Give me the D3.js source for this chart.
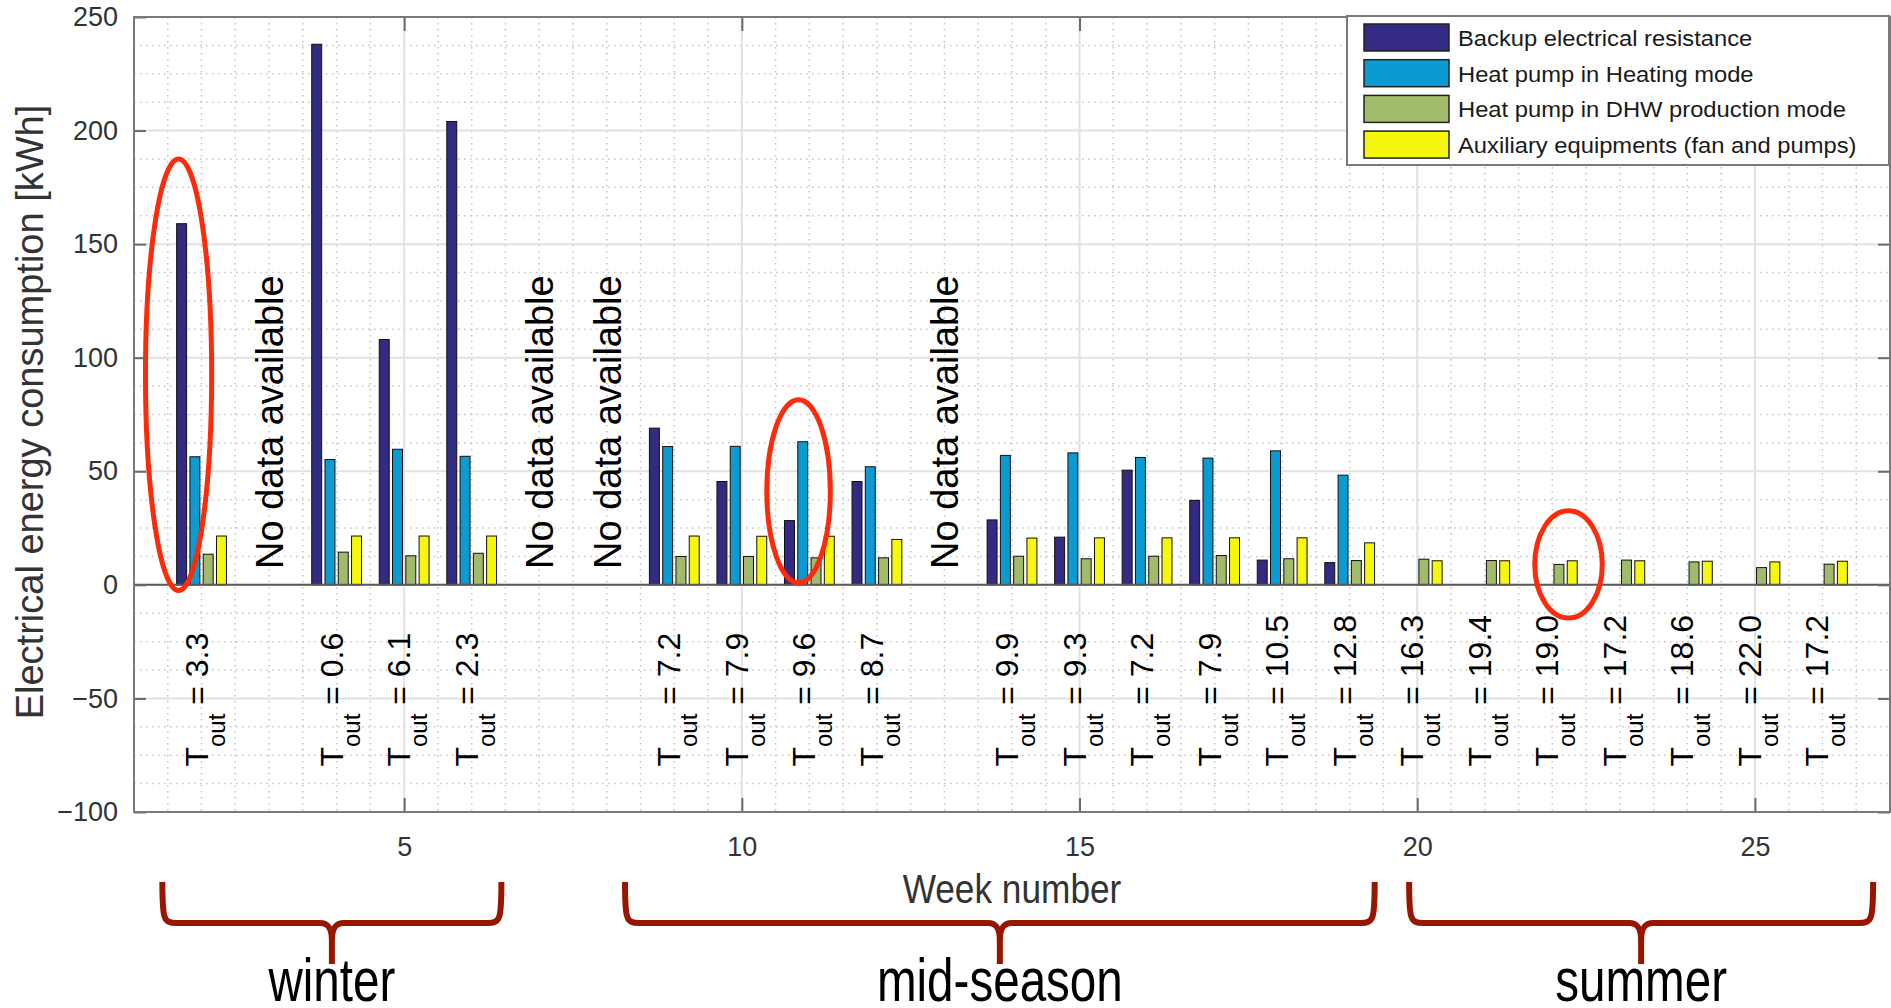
<!DOCTYPE html>
<html>
<head>
<meta charset="utf-8">
<script src="https://cdn.jsdelivr.net/npm/d3@7"></script>
<style>
  body { margin: 0; background: #fff; }
  svg { display: block; font-family: "Liberation Sans", Arial, Helvetica, sans-serif; }
</style>
</head>
<body>
<svg width="1891" height="1008"></svg>
<script>
//weeks that have measurements
var weeks = [2, 4, 5, 6, 9, 10, 11, 12, 14, 15, 16, 17, 18, 19, 20, 21, 22, 23, 24, 25, 26];
var backup = [159, 238, 108, 204, 69, 45.5, 28.3, 45.5, 28.6, 21, 50.5, 37.2, 10.9, 9.8, 0, 0, 0, 0, 0, 0, 0];
var heating = [56.4, 55.2, 59.7, 56.6, 60.9, 61, 63, 52, 57, 58.1, 56.1, 55.8, 59, 48.3, 0, 0, 0, 0, 0, 0, 0];
var dhw = [13.5, 14.4, 12.8, 13.9, 12.5, 12.5, 11.9, 11.9, 12.6, 11.5, 12.6, 12.9, 11.5, 10.7, 11.3, 10.7, 9.0, 10.9, 10.1, 7.6, 9.1];
var aux = [21.5, 21.5, 21.5, 21.5, 21.5, 21.4, 21.4, 20, 20.6, 20.7, 20.7, 20.7, 20.7, 18.5, 10.6, 10.6, 10.6, 10.6, 10.4, 10.1, 10.4];
//mean outdoor temperature of each week
var tOut = ["3.3", "0.6", "6.1", "2.3", "7.2", "7.9", "9.6", "8.7", "9.9", "9.3", "7.2", "7.9", "10.5", "12.8", "16.3", "19.4", "19.0", "17.2", "18.6", "22.0", "17.2"];
var noDataWeeks = [3, 7, 8, 13];

var seriesNames = ["Backup electrical resistance", "Heat pump in Heating mode",
    "Heat pump in DHW production mode", "Auxiliary equipments (fan and pumps)"];
var seriesColors = ["#332a82", "#0b9bd1", "#a1bb6a", "#f7f70c"];

//ticks
var xTicks = [5, 10, 15, 20, 25];
var yTicks = [-100, -50, 0, 50, 100, 150, 200, 250];

//seasons (week ranges under the axis)
var seasons = ["winter", "mid-season", "summer"];
var seasonStart = [1.42, 8.27, 19.88];
var seasonEnd = [6.44, 19.37, 26.75];

//red ellipses (week, value, half width in weeks, half height in kWh)
var markWeek = [1.66, 10.84, 22.24];
var markValue = [92.5, 41.2, 9.0];
var markRx = [0.49, 0.47, 0.5];
var markRy = [95, 40.3, 23.6];

var svg = d3.select("svg");
var plotLeft = 134, plotRight = 1890, plotTop = 17, plotBottom = 812;

var x = d3.scaleLinear().domain([1, 27]).range([plotLeft, plotRight]);
var y = d3.scaleLinear().domain([-100, 250]).range([plotBottom, plotTop]);
var inner = d3.scaleBand().domain(d3.range(4)).range([-0.3686, 0.3686]).paddingInner(0.25);

var series = [backup, heating, dhw, aux];
var pxPerWeek = x(2) - x(1);

//grid
var gGrid = svg.append("g");
gGrid.selectAll(".minY").data(d3.range(-100, 250.1, 12.5).filter(v => v % 50 !== 0))
    .enter().append("line")
    .attr("x1", plotLeft).attr("x2", plotRight)
    .attr("y1", d => y(d)).attr("y2", d => y(d))
    .attr("stroke", "#c4c4c4").attr("stroke-width", 1.5).attr("stroke-dasharray", "1.5 4.5");
gGrid.selectAll(".minX").data(d3.range(1.5, 27, 0.5).filter(v => v % 5 !== 0))
    .enter().append("line")
    .attr("y1", plotTop).attr("y2", plotBottom)
    .attr("x1", d => x(d)).attr("x2", d => x(d))
    .attr("stroke", "#c4c4c4").attr("stroke-width", 1.5).attr("stroke-dasharray", "1.5 4.5");
gGrid.selectAll(".majY").data(yTicks)
    .enter().append("line")
    .attr("x1", plotLeft).attr("x2", plotRight)
    .attr("y1", d => y(d)).attr("y2", d => y(d))
    .attr("stroke", "#e2e2e2").attr("stroke-width", 2);
gGrid.selectAll(".majX").data(xTicks)
    .enter().append("line")
    .attr("y1", plotTop).attr("y2", plotBottom)
    .attr("x1", d => x(d)).attr("x2", d => x(d))
    .attr("stroke", "#e2e2e2").attr("stroke-width", 2);

//bars
var gBars = svg.append("g");
series.forEach(function (vals, s) {
    gBars.selectAll(".s" + s).data(weeks.map((w, i) => ({ w: w, v: vals[i] })).filter(d => d.v > 0))
        .enter().append("rect")
        .attr("x", d => x(d.w + inner(s)))
        .attr("width", inner.bandwidth() * pxPerWeek)
        .attr("y", d => y(d.v))
        .attr("height", d => y(0) - y(d.v))
        .attr("fill", seriesColors[s])
        .attr("stroke", "#111").attr("stroke-width", 1);
});

//zero line
svg.append("line")
    .attr("x1", plotLeft).attr("x2", plotRight)
    .attr("y1", y(0)).attr("y2", y(0))
    .attr("stroke", "#5a5a5a").attr("stroke-width", 2);

//no data labels
svg.selectAll(".nodata").data(noDataWeeks)
    .enter().append("text")
    .attr("transform", d => "translate(" + [x(d) + 14, y(7)] + ") rotate(-90)")
    .attr("font-size", 38).attr("fill", "#000")
    .text("No data available");

//outdoor temperature labels
var tLabels = svg.selectAll(".tout").data(weeks)
    .enter().append("text")
    .attr("transform", d => "translate(" + [x(d) + 6, y(-80)] + ") rotate(-90)")
    .attr("font-size", 32).attr("fill", "#000")
    .style("white-space", "pre");
tLabels.append("tspan").text("T");
tLabels.append("tspan").attr("font-size", 24).attr("dy", 17).text("out");
tLabels.append("tspan").attr("dy", -17).text((d, i) => " = " + tOut[i]);

//ellipses
svg.selectAll(".mark").data(markWeek)
    .enter().append("ellipse")
    .attr("cx", d => x(d))
    .attr("cy", (d, i) => y(markValue[i]))
    .attr("rx", (d, i) => x(d + markRx[i]) - x(d))
    .attr("ry", (d, i) => y(0) - y(markRy[i]))
    .attr("fill", "none").attr("stroke", "#ff2a0a").attr("stroke-width", 5);

//axes
var gLeft = svg.append("g").attr("transform", "translate(" + plotLeft + ",0)")
    .call(d3.axisLeft(y).tickValues(yTicks).tickSizeInner(-12).tickSizeOuter(0).tickPadding(16));
var gRight = svg.append("g").attr("transform", "translate(" + plotRight + ",0)")
    .call(d3.axisRight(y).tickValues(yTicks).tickSizeInner(-12).tickSizeOuter(0).tickFormat(""));
var gBottom = svg.append("g").attr("transform", "translate(0," + plotBottom + ")")
    .call(d3.axisBottom(x).tickValues(xTicks).tickSizeInner(-14).tickSizeOuter(0).tickPadding(25));
var gTop = svg.append("g").attr("transform", "translate(0," + plotTop + ")")
    .call(d3.axisTop(x).tickValues(xTicks).tickSizeInner(-14).tickSizeOuter(0).tickFormat(""));
[gLeft, gRight, gBottom, gTop].forEach(function (g) {
    g.attr("font-family", null);
    g.select(".domain").remove();
    g.selectAll(".tick line").attr("stroke", "#6a6a6a").attr("stroke-width", 2);
    g.selectAll(".tick text").attr("font-size", 27).attr("fill", "#333");
});
svg.append("rect")
    .attr("x", plotLeft).attr("y", plotTop)
    .attr("width", plotRight - plotLeft).attr("height", plotBottom - plotTop)
    .attr("fill", "none").attr("stroke", "#7a7a7a").attr("stroke-width", 2);

//axis labels
svg.append("text")
    .attr("transform", "translate(" + [43, 412] + ") rotate(-90)")
    .attr("text-anchor", "middle").attr("font-size", 38).attr("fill", "#333")
    .text("Electrical energy consumption [kWh]");
svg.append("text")
    .attr("transform", "translate(" + [1012, 903] + ") scale(0.86,1)")
    .attr("text-anchor", "middle").attr("font-size", 41).attr("fill", "#333")
    .text("Week number");

//legend
var gLegend = svg.append("g");
gLegend.append("rect")
    .attr("x", 1347).attr("y", 16).attr("width", 542).attr("height", 149)
    .attr("fill", "#fff").attr("stroke", "#7a7a7a").attr("stroke-width", 2);
seriesNames.forEach(function (name, i) {
    var rowTop = 24 + i * 35.7;
    gLegend.append("rect")
        .attr("x", 1364).attr("y", rowTop)
        .attr("width", 85).attr("height", 27)
        .attr("fill", seriesColors[i]).attr("stroke", "#222").attr("stroke-width", 1.5);
    gLegend.append("text")
        .attr("transform", "translate(" + [1458, rowTop + 22] + ") scale(1.08,1)")
        .attr("font-size", 22).attr("fill", "#1a1a1a")
        .text(name);
});

//season braces
var braceTop = 882, braceMid = 923, braceTip = 964;
seasons.forEach(function (name, i) {
    var x0 = x(seasonStart[i]), x1 = x(seasonEnd[i]), xm = (x0 + x1) / 2;
    var path = d3.path();
    path.moveTo(x0, braceTop);
    path.bezierCurveTo(x0, braceMid - 4, x0 + 1, braceMid, x0 + 14, braceMid);
    path.lineTo(xm - 12, braceMid);
    path.bezierCurveTo(xm - 3, braceMid, xm, braceMid + 6, xm, braceMid + 18);
    path.lineTo(xm, braceTip);
    path.moveTo(x1, braceTop);
    path.bezierCurveTo(x1, braceMid - 4, x1 - 1, braceMid, x1 - 14, braceMid);
    path.lineTo(xm + 12, braceMid);
    path.bezierCurveTo(xm + 3, braceMid, xm, braceMid + 6, xm, braceMid + 18);
    svg.append("path")
        .attr("d", path.toString())
        .attr("fill", "none").attr("stroke", "#981600").attr("stroke-width", 6);
    svg.append("text")
        .attr("transform", "translate(" + [xm, 1001] + ") scale(0.78,1)")
        .attr("text-anchor", "middle").attr("font-size", 61).attr("fill", "#000")
        .text(name);
});
</script>
</body>
</html>
